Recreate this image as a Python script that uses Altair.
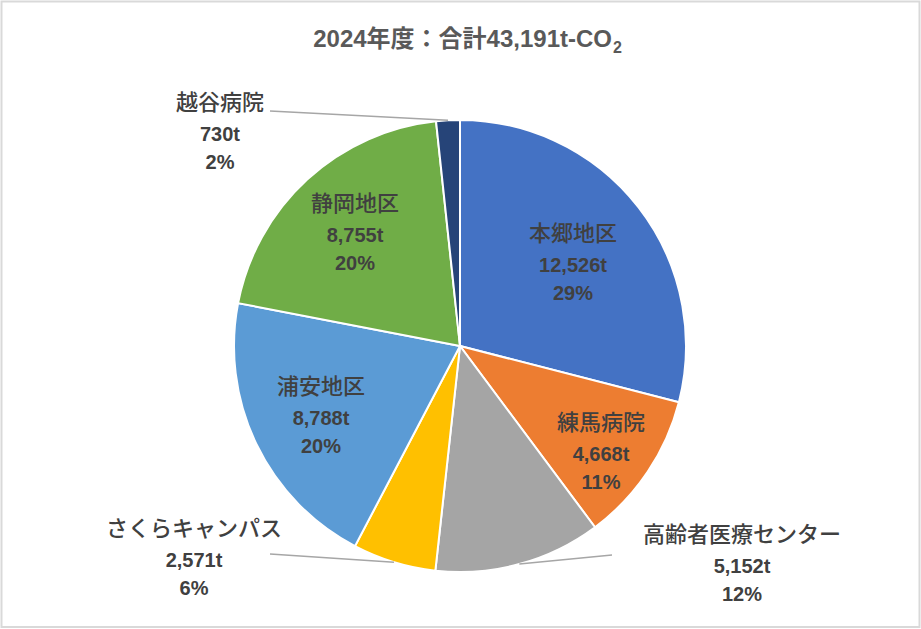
import math
import altair as alt
import pandas as pd

# ---------------- data ----------------
names = ["本郷地区", "練馬病院", "高齢者医療センター", "さくらキャンパス", "浦安地区", "静岡地区", "越谷病院"]
values = [12526, 4668, 5152, 2571, 8788, 8755, 730]
value_labels = ["12,526t", "4,668t", "5,152t", "2,571t", "8,788t", "8,755t", "730t"]
pct_labels = ["29%", "11%", "12%", "6%", "20%", "20%", "2%"]
colors = ["#4472C4", "#ED7D31", "#A5A5A5", "#FFC000", "#5B9BD5", "#70AD47", "#264478"]
title_main = "2024年度：合計43,191t-CO"
title_sub = "2"

# ---------------- layout ----------------
W, H = 921, 629
CX, CY, R = 460, 346, 226
# centre of the number line of each label block (pixels)
label_anchor = {
    "本郷地区": (573, 266),
    "練馬病院": (601, 455),
    "高齢者医療センター": (742, 567),
    "さくらキャンパス": (194, 561),
    "浦安地区": (321, 419),
    "静岡地区": (355, 236),
    "越谷病院": (220, 135),
}
# outer end of leader lines (pixels)
leader_outer = {
    "高齢者医療センター": (612, 555),
    "さくらキャンパス": (270, 554),
    "越谷病院": (270, 111),
}
NAME_DY, PCT_DY = -32, 28
LABEL_COLOR = "#404040"
CJK = "Noto Sans CJK JP"
LATIN = "Liberation Sans, Arial, Noto Sans CJK JP"

# ---------------- tables ----------------
df = pd.DataFrame({
    "name": names,
    "value": values,
    "vlabel": value_labels,
    "plabel": pct_labels,
    "order": list(range(len(names))),
})
df["lx"] = [label_anchor[n][0] for n in names]
df["ly"] = [label_anchor[n][1] for n in names]

total = sum(values)
rows = []
cum = 0
for n, v in zip(names, values):
    mid = (cum + v / 2) / total * 2 * math.pi
    cum += v
    if n in leader_outer:
        ox, oy = leader_outer[n]
        rows.append({
            "x": CX + R * math.sin(mid), "y": CY - R * math.cos(mid),
            "x2": ox, "y2": oy,
        })
leaders = pd.DataFrame(rows)

base = alt.Chart(df)

pie = base.mark_arc(outerRadius=R, stroke="white", strokeWidth=2).encode(
    theta=alt.Theta("value:Q", stack=True),
    order=alt.Order("order:Q"),
    color=alt.Color("name:N", scale=alt.Scale(domain=names, range=colors), legend=None),
    x=alt.value(CX),
    y=alt.value(CY),
)

xenc = alt.X("lx:Q", scale=None, axis=None)
yenc = alt.Y("ly:Q", scale=None, axis=None)

name_txt = base.mark_text(font=CJK, fontSize=22, fontWeight=500, color=LABEL_COLOR, baseline="middle",
                          align="center", dy=NAME_DY).encode(x=xenc, y=yenc, text="name:N")
val_txt = base.mark_text(font=LATIN, fontSize=20, fontWeight="bold", color=LABEL_COLOR,
                         baseline="middle", align="center").encode(x=xenc, y=yenc, text="vlabel:N")
pct_txt = base.mark_text(font=LATIN, fontSize=20, fontWeight="bold", color=LABEL_COLOR,
                         baseline="middle", align="center", dy=PCT_DY).encode(x=xenc, y=yenc, text="plabel:N")

lead = alt.Chart(leaders).mark_rule(color="#A6A6A6", strokeWidth=1.5).encode(
    x=alt.X("x:Q", scale=None, axis=None), y=alt.Y("y:Q", scale=None, axis=None),
    x2="x2:Q", y2="y2:Q",
)

one = alt.Chart(pd.DataFrame({"t": [title_main], "s": [title_sub]}))
title1 = one.mark_text(font=LATIN, fontSize=24, fontWeight="bold", color="#595959",
                       align="right", baseline="alphabetic").encode(
    x=alt.value(612), y=alt.value(47), text="t:N")
title2 = one.mark_text(font=LATIN, fontSize=16, fontWeight="bold", color="#595959",
                       align="left", baseline="alphabetic").encode(
    x=alt.value(613), y=alt.value(53), text="s:N")

border = one.mark_rect(fill=None, stroke="#D9D9D9", strokeWidth=2).encode(
    x=alt.value(1.5), x2=alt.value(919.5), y=alt.value(1.5), y2=alt.value(627),
)

chart = alt.layer(border, pie, lead, name_txt, val_txt, pct_txt, title1, title2).properties(
    width=W, height=H, padding=0, autosize="none", background="white"
).configure_view(stroke=None)

chart.save("out.html", embed_options={"renderer": "svg", "actions": False})
